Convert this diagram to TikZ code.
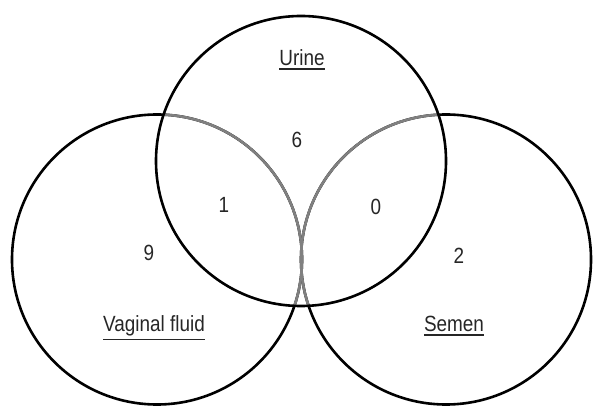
\documentclass[tikz,border=0pt]{standalone}
\usepackage{fontspec}
\newfontfamily\vennfont{Liberation Sans}[FakeStretch=0.86]
\newcommand{\uln}[1]{\vtop{\hbox{#1}\kern2pt\hrule height1.6pt}}

\begin{document}
\begin{tikzpicture}[x=1pt,y=1pt,line width=2.6pt,
  setname/.style={anchor=base,inner sep=0pt,text=black!85,font=\vennfont\fontsize{22}{26}\selectfont},
  tally/.style={anchor=base,inner sep=0pt,text=black!85,font=\vennfont\fontsize{22}{26}\selectfont}]
  \useasboundingbox (0,0) rectangle (593,406);
  \foreach \x in {157,446} {
    \draw (\x,146.5) circle (145);
  }
  \begin{scope}
    \clip (301,245) circle (145);
    \foreach \x in {157,446} {
      \draw[black!50] (\x,146.5) circle (145);
    }
  \end{scope}
  \draw (301,245) circle (145);
  \node[setname] (urine) at (302,340) {\uln{Urine}};
  \node[setname] (vaginal) at (154,74) {\uln{Vaginal fluid}};
  \node[setname] (semen) at (454,74) {\uln{Semen}};
  \node[tally] (nU) at (297,258.5) {6};
  \node[tally] (nUV) at (224,193.5) {1};
  \node[tally] (nUS) at (376,191.5) {0};
  \node[tally] (nV) at (149,145.5) {9};
  \node[tally] (nS) at (459,142) {2};
\end{tikzpicture}
\end{document}
